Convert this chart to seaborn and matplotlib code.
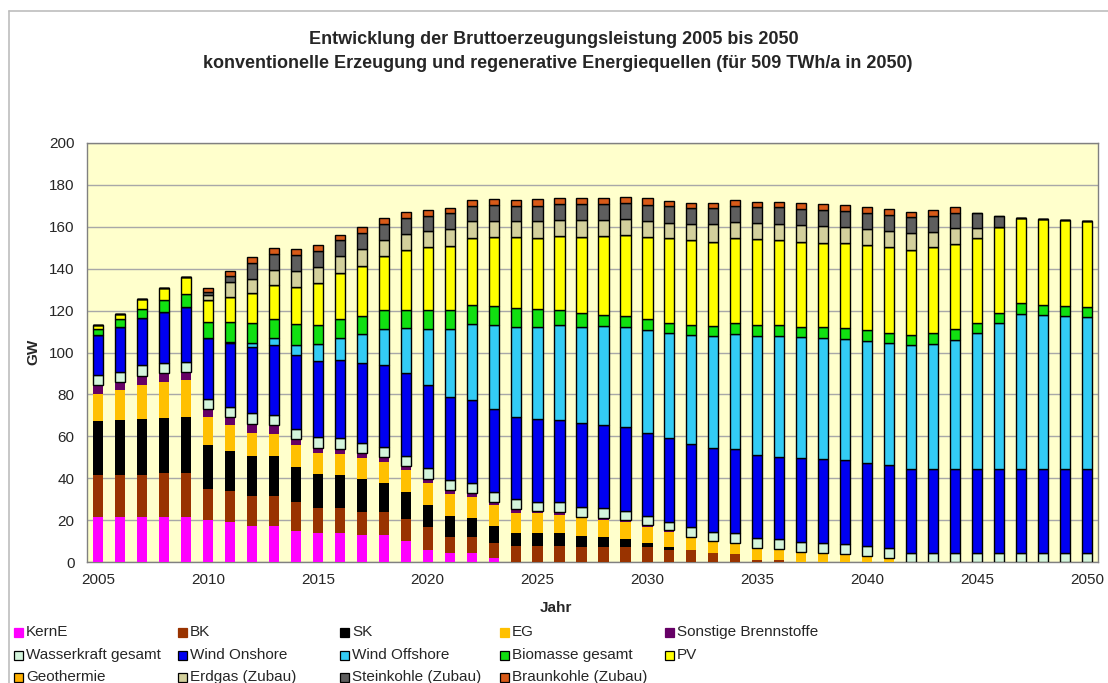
import numpy as np
import pandas as pd
import matplotlib
matplotlib.use("Agg")
import matplotlib.pyplot as plt
from matplotlib.patches import Rectangle
from matplotlib.lines import Line2D
import seaborn as sns

# ---------------- data (GW) ----------------
years = list(range(2005, 2051))

kern_e = [21.5, 21.5, 21.5, 21.5, 21.5, 20.2, 19.1, 17.0, 17.0, 14.8, 14.0, 14.0, 12.9, 12.9, 10.2,
          5.7, 4.5, 4.5, 1.8] + [0.0] * 27
bk = [19.9, 19.9, 19.9, 21.0, 21.0, 14.8, 14.7, 14.4, 14.4, 13.9, 11.8, 11.6, 11.1, 11.1, 10.2,
      10.9, 7.6, 7.6, 7.4, 7.6, 7.6, 7.6, 7.3, 7.3, 7.0, 7.3, 5.7, 5.7, 4.5, 3.7, 1.0, 1.0] + [0.0] * 14
sk = [25.8, 26.3, 26.8, 26.3, 26.8, 20.7, 19.2, 19.1, 19.1, 16.7, 16.4, 16.0, 15.5, 13.6, 13.2,
      10.6, 9.9, 8.8, 8.0, 6.4, 6.4, 6.1, 5.3, 4.8, 3.8, 1.6, 1.3] + [0.0] * 19
eg = [13.2, 14.3, 16.5, 17.2, 17.5, 13.6, 12.3, 11.1, 10.8, 10.6, 10.0, 9.8, 10.0, 10.0, 10.4,
      10.7, 10.5, 10.0, 10.0, 9.6, 9.2, 8.8, 8.2, 7.9, 8.5, 7.6, 7.5, 5.6, 5.2, 5.2, 5.0, 4.7,
      4.5, 4.1, 3.3, 2.9, 2.1] + [0.0] * 9
sonstige = [4.0, 4.0, 4.0, 4.3, 4.0, 3.5, 3.7, 4.2, 4.0, 2.6, 2.4, 2.6, 2.4, 2.4, 1.9, 1.9, 1.9,
            1.9, 1.6, 1.6, 1.3, 1.5, 0.8, 0.8, 0.7, 1.2, 0.8, 0.8, 0.5, 0.3, 0.5, 0.3, 0.4, 0.4,
            0.3] + [0.0] * 11
wasser = [4.8, 4.8, 5.3, 4.9, 4.7, 5.2, 5.0, 5.1, 4.7, 5.1, 5.1, 5.0, 4.8, 5.0, 4.9, 4.9, 4.8,
          4.8, 4.8, 4.7, 4.3, 4.5, 4.8, 4.8, 4.5, 4.3, 4.0, 4.4, 4.3, 4.8, 4.8, 4.8, 4.8, 4.7,
          5.0, 4.7, 4.4] + [4.5] * 9
wind_on = [19.1, 21.5, 22.7, 24.2, 26.3, 28.7, 30.3, 31.8, 33.8, 35.0, 36.3, 37.5, 38.5, 39.1,
           39.6, 39.9, 39.5, 39.5, 39.3, 39.5, 39.4, 39.3, 39.8, 39.8, 39.8, 39.7, 39.7, 39.8,
           40.1, 39.8, 39.8, 39.5, 39.8, 39.8, 40.1, 39.8, 39.8] + [39.7] * 9
wind_off = [0.0] * 6 + [0.8, 1.9, 3.2, 5.1, 8.0, 10.3, 13.6, 17.0, 21.5, 26.5, 32.4, 36.4, 40.3,
                        43.0, 44.2, 45.4, 45.8, 47.2, 48.0, 49.0, 50.1, 52.1, 53.3, 55.0, 56.8,
                        57.6, 57.7, 57.8, 57.7, 58.2, 58.1, 59.4, 59.9, 61.8, 64.9, 70.0, 74.2,
                        73.7, 73.2, 72.9]
biomasse = [2.7, 3.5, 4.3, 5.6, 6.1, 7.9, 9.5, 9.3, 9.2, 9.6, 9.0, 9.1, 8.7, 9.3, 8.5, 9.3, 9.0,
            9.3, 8.8, 8.8, 8.5, 6.9, 6.7, 5.3, 5.1, 5.1, 4.8, 4.7, 4.7, 5.1, 5.2, 5.2, 5.1, 5.2,
            5.5, 5.1, 5.1, 4.8, 5.1, 5.1, 4.8, 4.8, 5.1, 4.8, 4.8, 4.8]
pv = [2.0, 2.8, 4.3, 5.6, 8.2, 10.4, 12.0, 14.3, 16.0, 18.0, 20.0, 22.0, 23.9, 25.8, 28.6, 29.8,
      30.9, 31.8, 33.0, 33.7, 33.7, 35.6, 36.6, 37.7, 38.7, 39.5, 40.6, 40.6, 40.3, 40.6, 40.9,
      40.6, 40.6, 40.4, 40.5, 40.6, 40.7, 40.5, 41.0, 40.7, 40.9, 41.0, 40.5, 40.9, 41.0, 40.9]
geothermie = [0.0] * 46
erdgas_zubau = [0.0] * 5 + [2.4, 7.2, 6.8, 7.4, 7.6, 7.6, 8.0, 8.0, 7.6, 7.5, 7.6, 7.9, 8.0, 8.0,
                            7.7, 8.0, 7.7, 7.9, 7.6, 7.5, 7.6, 7.5, 7.6, 8.4, 8.0, 7.7, 7.6, 8.0,
                            8.0, 7.7, 7.5, 7.8, 8.0, 7.5, 7.5, 4.5] + [0.0] * 5
steinkohle_zubau = [0.0] * 5 + [1.6, 2.7, 7.8, 7.4, 7.5, 8.0, 7.6, 7.6, 7.7, 7.7, 7.5, 7.7, 7.5,
                                7.5, 7.5, 7.5, 7.6, 7.7, 7.7, 7.6, 7.5, 7.9, 7.5, 7.5, 7.4, 7.9,
                                8.0, 7.4, 7.6, 7.6, 7.9, 7.6, 7.6, 7.5, 7.4, 7.4, 5.2] + [0.0] * 4
braunkohle_zubau = [0.0] * 5 + [1.6, 2.5, 2.6, 2.7, 2.7, 2.7, 2.7, 2.9, 2.7, 2.7, 2.9, 2.3, 2.5,
                                2.7, 2.8, 3.1, 2.7, 2.7, 2.7, 2.9, 3.2, 2.6, 2.7, 2.4, 2.9, 2.4,
                                2.7, 2.9, 2.9, 2.7, 2.9, 2.7, 2.7, 2.8, 2.9] + [0.0] * 6

labels = ["KernE", "BK", "SK", "EG", "Sonstige Brennstoffe",
          "Wasserkraft gesamt", "Wind Onshore", "Wind Offshore", "Biomasse gesamt", "PV",
          "Geothermie", "Erdgas (Zubau)", "Steinkohle (Zubau)", "Braunkohle (Zubau)"]
values = [kern_e, bk, sk, eg, sonstige, wasser, wind_on, wind_off, biomasse, pv,
          geothermie, erdgas_zubau, steinkohle_zubau, braunkohle_zubau]
colors = ["#FF00FF", "#993300", "#000000", "#FFC000", "#660066",
          "#D4F5DC", "#0000F0", "#33CCF5", "#11E011", "#FFFF00",
          "#FFB000", "#D3D09C", "#5E5E5E", "#D85A18"]
edged = [False] * 5 + [True] * 9

df = pd.DataFrame({"Jahr": years})
for lab, vals in zip(labels, values):
    df[lab] = vals

# ---------------- figure ----------------
sns.set_theme(style="white")
plt.rcParams["font.family"] = ["Liberation Sans", "DejaVu Sans"]

W, H = 1108, 683
fig = plt.figure(figsize=(W / 100, H / 100), dpi=100)
fig.patch.set_facecolor("white")
ax = fig.add_axes([87 / W, 1 - 562 / H, (1098 - 87) / W, (562 - 143) / H])
ax.set_facecolor("#FFFFCC")

bottom = np.zeros(len(years))
for lab, col, e in zip(labels, colors, edged):
    sns.barplot(data=df, x="Jahr", y=lab, native_scale=True, color=col, saturation=1,
                width=0.46, errorbar=None, bottom=bottom.copy(),
                edgecolor="black" if e else col, linewidth=1.0 if e else 0,
                ax=ax, zorder=3)
    bottom += df[lab].to_numpy()

ax.set_xlim(2004.5, 2050.5)
ax.set_ylim(0, 200)
ax.set_yticks(np.arange(0, 201, 20))
ax.set_xticks(np.arange(2005, 2051, 5))
ax.set_xticks(np.arange(2004.5, 2051, 1), minor=True)
ax.tick_params(axis="x", which="major", length=0, pad=8, labelsize=11)
ax.tick_params(axis="x", which="minor", length=4, width=1, color="#808080", direction="out")
ax.tick_params(axis="y", which="major", length=5, width=1, color="#808080", direction="out",
               labelsize=11, pad=4)
ax.grid(axis="y", color="#A8A8A8", linewidth=1.0, zorder=0)
ax.set_axisbelow(True)
for s in ax.spines.values():
    s.set_visible(True)
    s.set_color("#808080")
    s.set_linewidth(1.0)
ax.set_xlabel("")
ax.set_ylabel("")

fig.text(556 / W, 1 - 608 / H, "Jahr", ha="center", va="center", fontsize=11, fontweight="bold")
fig.text(33 / W, 1 - 352 / H, "GW", ha="center", va="center", fontsize=11, fontweight="bold",
         rotation=90)
fig.text(554 / W, 1 - 40 / H, "Entwicklung der Bruttoerzeugungsleistung 2005 bis 2050",
         ha="center", va="center", fontsize=13, fontweight="bold")
fig.text(558 / W, 1 - 63 / H,
         "konventionelle Erzeugung und regenerative Energiequellen (für 509 TWh/a in 2050)",
         ha="center", va="center", fontsize=13, fontweight="bold")

# legend (5 columns, row-wise as in the original)
col_x = [14, 178, 340, 500, 665]
row_y = [632, 655, 677]
for i, (lab, col, e) in enumerate(zip(labels, colors, edged)):
    r, c = divmod(i, 5)
    x0, yc = col_x[c], row_y[r]
    fig.patches.append(Rectangle((x0 / W, 1 - (yc + 4.5) / H), 9 / W, 9 / H,
                                 transform=fig.transFigure, facecolor=col,
                                 edgecolor="black" if e else col, linewidth=0.9))
    fig.text((x0 + 12) / W, 1 - yc / H, lab, ha="left", va="center", fontsize=11)

# chart border
fig.lines.append(Line2D([9 / W, 9 / W], [0, 1 - 11 / H], transform=fig.transFigure,
                        color="#BDBDBD", linewidth=1.2))
fig.lines.append(Line2D([9 / W, 1], [1 - 11 / H, 1 - 11 / H], transform=fig.transFigure,
                        color="#BDBDBD", linewidth=1.2))

fig.savefig("out.png", dpi=100)
